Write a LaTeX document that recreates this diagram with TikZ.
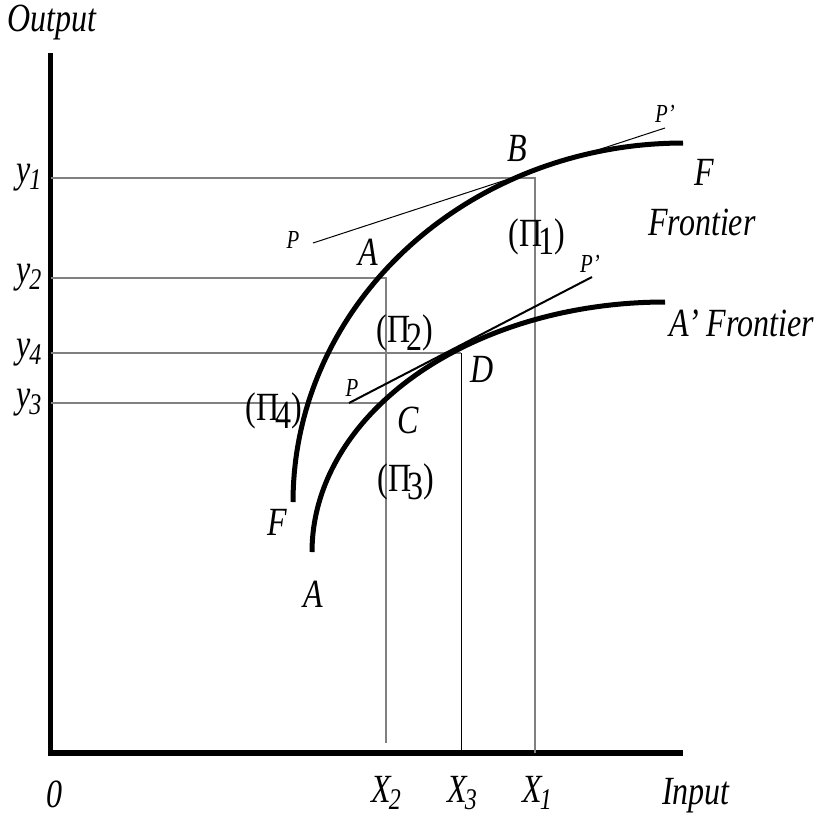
\documentclass[tikz,border=0pt]{standalone}
\usepackage{fontspec}
\setmainfont[FakeStretch=0.8]{Liberation Serif}

\newcommand{\subl}[2]{#1\kern-0.04em\raisebox{-0.16em}{\fontsize{30}{30}\selectfont #2}}
\newcommand{\prof}[1]{{\upshape(Π\kern-0.1em\raisebox{-0.2em}{#1})}}

\begin{document}
\begin{tikzpicture}[x=1pt, y=-1pt,
    lbl/.style={inner sep=0pt, font=\fontsize{40}{42}\selectfont\itshape},
    tiny/.style={inner sep=0pt, font=\fontsize{26}{28}\selectfont\itshape},
    guide/.style={draw=black!50, line width=1.4pt},
    frontier/.style={line width=5pt}]
    \useasboundingbox (0,0) rectangle (819,815);

    % Axes
    \coordinate (top) at (50.5,53);
    \coordinate (origin) at (50.5,753);
    \coordinate (right) at (683,753);
    \draw[line width=5.5pt, line join=miter] (top) -- (origin) -- (right);

    % Points on the frontiers
    \coordinate (B1) at (535,178);
    \coordinate (A1) at (386,278);
    \coordinate (D1) at (461,353);
    \coordinate (C1) at (386,403);

    % Guide lines to the axes
    \draw[guide] (B1 -| origin) -- (B1) -- (B1 |- origin);
    \draw[guide] (A1 -| origin) -- (A1) -- +(0,465);
    \draw[guide] (D1 -| origin) -- (D1);
    \draw[line width=0.9pt] (D1) -- (D1 |- origin);
    \draw[guide] (C1 -| origin) -- (C1);

    % Frontier F (quarter ellipse)
    \draw[frontier, domain=0:90, samples=80] plot ({683-390*cos(\x)}, {502-359*sin(\x)});
    % Frontier A'
    \draw[frontier, domain=0:90, samples=80] plot ({665-353*cos(\x)}, {552-250*sin(\x)});

    % Price lines
    \coordinate (pu) at (313,243);
    \coordinate (pu') at (665,128);
    \coordinate (pl) at (349,403);
    \coordinate (pl') at (592,277);
    \draw[line width=1pt] (pu) -- (pu');
    \draw[line width=2pt] (pl) -- (pl');

    % Labels
    \node[lbl] (output) at (52,23) {Output};
    \node[lbl] (y1) at (29,178) {\subl{y}{1}};
    \node[lbl] (y2) at (29,278) {\subl{y}{2}};
    \node[lbl] (y4) at (29,353) {\subl{y}{4}};
    \node[lbl] (y3) at (29,403) {\subl{y}{3}};
    \node[lbl] (zero) at (54,794) {0};
    \node[lbl] (x2) at (386,793) {\subl{X}{2}};
    \node[lbl] (x3) at (462,793) {\subl{X}{3}};
    \node[lbl] (x1) at (537,793) {\subl{X}{1}};
    \node[lbl] (input) at (696,796) {Input};

    \node[lbl] (labB) at (517,148) {B};
    \node[lbl] (labA) at (368,252) {A};
    \node[lbl] (labD) at (482,369) {D};
    \node[lbl] (labC) at (408,420) {C};
    \node[lbl] (labF) at (277,522) {F};
    \node[lbl] (labAA) at (313,594) {A};
    \node[lbl] (labFF) at (704,172) {F};
    \node[lbl] (front) at (702,222) {Frontier};
    \node[lbl] (front') at (742,323) {A’ Frontier};

    \node[tiny] (tu) at (293,240) {P};
    \node[tiny] (tu') at (665,114) {P’};
    \node[tiny] (tl) at (352,388) {P};
    \node[tiny] (tl') at (590,264) {P’};

    \node[lbl] (pi1) at (537,237) {\prof{1}};
    \node[lbl] (pi2) at (405,333) {\prof{2}};
    \node[lbl] (pi3) at (406,482) {\prof{3}};
    \node[lbl] (pi4) at (274,411) {\prof{4}};
\end{tikzpicture}
\end{document}
